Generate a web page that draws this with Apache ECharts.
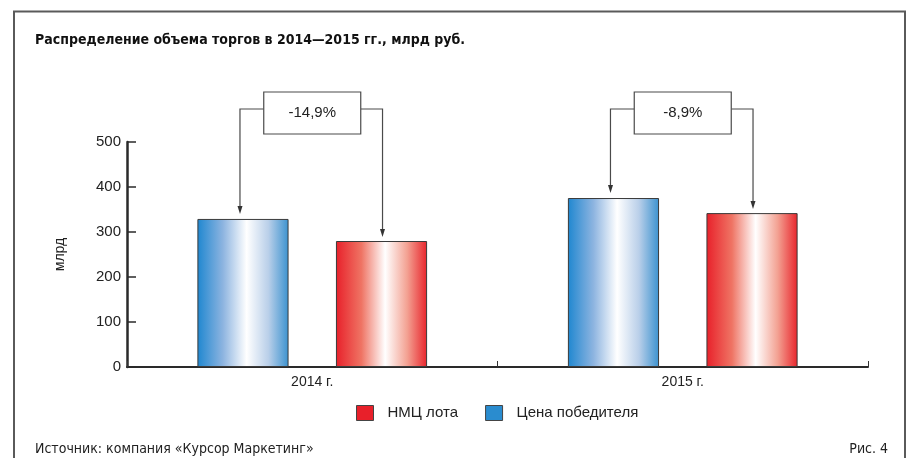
<!DOCTYPE html>
<html>
<head>
<meta charset="utf-8">
<script src="https://cdn.jsdelivr.net/npm/echarts@6/dist/echarts.min.js"></script>
<style>
html,body{margin:0;padding:0;background:#fff;}
#chart{width:911px;height:458px;}
</style>
</head>
<body>
<div id="chart"></div>
<script>
// ---- data ----
var categories = ['2014 г.', '2015 г.'];
var winnerPrice = [329, 375.5];   // Цена победителя
var lotPrice = [280, 342];        // НМЦ лота
var changeLabels = ['-14,9%', '-8,9%'];
var yTicks = [0, 100, 200, 300, 400, 500];
var seriesNames = ['Цена победителя', 'НМЦ лота'];
var legendOrder = ['НМЦ лота', 'Цена победителя'];
var titleText = 'Распределение объема торгов в 2014—2015 гг., млрд руб.';
var sourceText = 'Источник: компания «Курсор Маркетинг»';
var figText = 'Рис. 4';
var yName = 'млрд';

// ---- styling ----
var FONT = "'Liberation Sans', Arial, sans-serif";
var NARROW = "'DejaVu Sans Condensed', 'Liberation Sans', sans-serif";
var BAR_CAT_GAP = 0.38, BAR_GAP = 0.52;

function grad(edge1, mid1, mid2, edge2) {
  return new echarts.graphic.LinearGradient(0, 0, 1, 0, [
    {offset: 0, color: edge1},
    {offset: 0.28, color: mid1},
    {offset: 0.54, color: '#ffffff'},
    {offset: 0.78, color: mid2},
    {offset: 1, color: edge2}
  ]);
}
var blueGrad = grad('#1f87d0', '#8db4e0', '#b9cfe9', '#3b92cf');
var redGrad = grad('#e8202a', '#ef7464', '#f3a293', '#e8242b');

var annData = categories.map(function (c, i) {
  return [i, winnerPrice[i], lotPrice[i], changeLabels[i]];
});

function renderAnn(params, api) {
  var idx = api.value(0);
  var band = api.size([1, 0])[0];
  var w = band * (1 - BAR_CAT_GAP) / (2 + BAR_GAP);
  var off = w * (1 + BAR_GAP) / 2;
  var pB = api.coord([idx, api.value(1)]);
  var pR = api.coord([idx, api.value(2)]);
  var top = api.coord([idx, 500]);
  var cx = top[0];
  var boxW = 97, boxH = 42;
  var boxTop = top[1] - 50;
  var lineY = boxTop + 17;
  var xB = pB[0] - off - 3, xR = pR[0] + off + 1;
  var tipB = pB[1] - 5, tipR = pR[1] - 4;
  var lineStyle = {stroke: '#4a4a4a', lineWidth: 1.2, fill: null};
  function arrow(x, y) {
    return {type: 'polygon', shape: {points: [[x - 2.5, y - 8], [x + 2.5, y - 8], [x, y]]}, style: {fill: '#333'}};
  }
  return {
    type: 'group',
    children: [
      {type: 'polyline', shape: {points: [[cx - boxW / 2, lineY], [xB, lineY], [xB, tipB - 6]]}, style: lineStyle},
      {type: 'polyline', shape: {points: [[cx + boxW / 2, lineY], [xR, lineY], [xR, tipR - 6]]}, style: lineStyle},
      arrow(xB, tipB),
      arrow(xR, tipR),
      {type: 'rect', shape: {x: cx - boxW / 2, y: boxTop, width: boxW, height: boxH},
        style: {fill: '#fff', stroke: '#4a4a4a', lineWidth: 1.2}},
      {type: 'text', x: cx, y: lineY + 4,
        style: {text: api.value(3), fill: '#222', font: '15px ' + FONT, align: 'center', verticalAlign: 'middle'}}
    ]
  };
}

var chart = echarts.init(document.getElementById('chart'), null, {renderer: 'canvas'});
chart.setOption({
  animation: false,
  backgroundColor: '#fff',
  title: [
    {text: titleText, left: 30, top: 28,
      textStyle: {fontFamily: NARROW, fontWeight: 'bold', fontSize: 14, color: '#111'}},
    {text: sourceText, left: 30, top: 437,
      textStyle: {fontFamily: NARROW, fontWeight: 'normal', fontSize: 14, color: '#222'}},
    {text: figText, right: 18, top: 437,
      textStyle: {fontFamily: NARROW, fontWeight: 'normal', fontSize: 14, color: '#222'}}
  ],
  graphic: [
    {type: 'polyline', silent: true,
      shape: {points: [[14, 470], [14, 11.5], [905, 11.5], [905, 470]]},
      style: {stroke: '#5a5a5a', lineWidth: 2, fill: null}}
  ],
  legend: {
    data: [
      {name: legendOrder[0], itemStyle: {color: '#e8202a', borderColor: '#444', borderWidth: 1}},
      {name: legendOrder[1], itemStyle: {color: '#2a8ccf', borderColor: '#444', borderWidth: 1}}
    ],
    left: 351, top: 400,
    itemWidth: 17, itemHeight: 15, itemGap: 27,
    icon: 'rect',
    textStyle: {fontFamily: FONT, fontSize: 15, color: '#222', padding: [0, 0, 0, 9]}
  },
  grid: {left: 127, right: 43, top: 142, bottom: 91, containLabel: false},
  xAxis: {
    type: 'category',
    data: categories,
    axisLine: {lineStyle: {color: '#2a2a2a', width: 2}},
    axisTick: {show: true, inside: true, length: 6, alignWithLabel: false, lineStyle: {color: '#333', width: 1}},
    axisLabel: {fontFamily: FONT, fontSize: 14, color: '#222', margin: 8}
  },
  yAxis: {
    type: 'value',
    min: yTicks[0], max: yTicks[yTicks.length - 1], interval: 100,
    name: yName, nameLocation: 'middle', nameGap: 60, nameRotate: 90,
    nameTextStyle: {fontFamily: FONT, fontSize: 14, color: '#222'},
    axisLine: {show: true, lineStyle: {color: '#2a2a2a', width: 2.5}},
    axisTick: {show: true, inside: true, length: 9, lineStyle: {color: '#2a2a2a', width: 1.5}},
    axisLabel: {fontFamily: FONT, fontSize: 15, color: '#222', margin: 6},
    splitLine: {show: false}
  },
  series: [
    {name: seriesNames[0], type: 'bar', data: winnerPrice,
      barCategoryGap: (BAR_CAT_GAP * 100) + '%', barGap: (BAR_GAP * 100) + '%',
      itemStyle: {color: blueGrad, borderColor: '#3a3a3a', borderWidth: 1}},
    {name: seriesNames[1], type: 'bar', data: lotPrice,
      itemStyle: {color: redGrad, borderColor: '#3a3a3a', borderWidth: 1}},
    {type: 'custom', name: 'ann', data: annData, renderItem: renderAnn,
      encode: {x: 0, y: 1}, clip: false, z: 5, silent: true}
  ]
});
</script>
</body>
</html>
